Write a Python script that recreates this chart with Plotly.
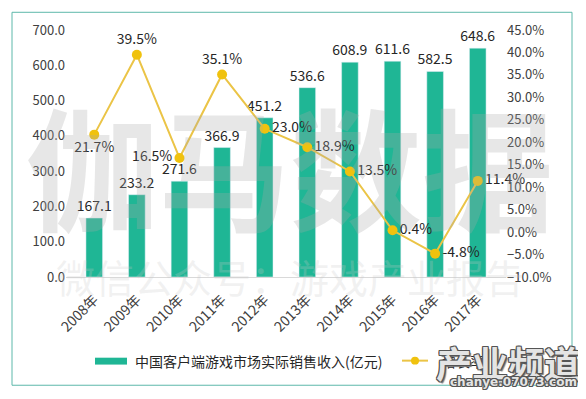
import plotly.graph_objects as go

years = ["2008年", "2009年", "2010年", "2011年", "2012年", "2013年", "2014年", "2015年", "2016年", "2017年"]
revenue = [167.1, 233.2, 271.6, 366.9, 451.2, 536.6, 608.9, 611.6, 582.5, 648.6]
growth = [21.7, 39.5, 16.5, 35.1, 23.0, 18.9, 13.5, 0.4, -4.8, 11.4]
growth_pos = ["bottom center", "top center", "middle left", "top center", "middle right",
              "middle right", "middle right", "middle right", "middle right", "middle right"]
bar_name = "中国客户端游戏市场实际销售收入(亿元)"
line_name = "增长率"

FONT = "Noto Sans CJK SC"
OFF = 8  # page body margin in the browser
W, H = 586 - OFF, 399 - OFF
L, R, T, B = 66 - OFF, 80, 26 - OFF, 122
PW, PH = W - L - R, H - T - B


def px(x):
    return (x - OFF - L) / PW


def py(y):
    return (H - B - (y - OFF)) / PH


BAR_C = "#1FB695"
LINE_C = "#EBC446"
MARK_C = "#F0C20E"

fig = go.Figure()
fig.add_trace(go.Bar(
    x=years, y=revenue, name=bar_name, marker_color=BAR_C,
    text=[f"{v:.1f}" for v in revenue], textposition="outside", constraintext="none",
    textfont=dict(size=14, color="#262626", family=FONT),
    cliponaxis=False, showlegend=False,
))
fig.add_trace(go.Scatter(
    x=years, y=growth, name=line_name, yaxis="y2", mode="lines+markers+text",
    line=dict(color=LINE_C, width=2), marker=dict(color=MARK_C, size=10),
    text=[f"{v:.1f}%" for v in growth], textposition=growth_pos,
    textfont=dict(size=14, color="#262626", family=FONT),
    cliponaxis=False, showlegend=False,
))

shapes = [
    dict(type="rect", xref="paper", yref="paper", x0=px(12), x1=px(572), y0=py(387), y1=py(8),
         line=dict(color="#5DB8AA", width=1), layer="below"),
    dict(type="rect", xref="paper", yref="paper", x0=px(95), x1=px(127), y0=py(366), y1=py(359),
         line=dict(width=0), fillcolor=BAR_C),
    dict(type="line", xref="paper", yref="paper", x0=px(402), x1=px(428), y0=py(362), y1=py(362),
         line=dict(color=LINE_C, width=2)),
    dict(type="circle", xref="paper", yref="paper", x0=px(411), x1=px(419), y0=py(366), y1=py(358),
         line=dict(width=0), fillcolor=MARK_C),
]


def ann(text, x, y, xanchor="center", **font):
    return dict(text=text, xref="paper", yref="paper", x=px(x), y=py(y), showarrow=False,
                xanchor=xanchor, yanchor="middle", font=font)


def outline(c, w=1):
    return ", ".join(f"{dx}px {dy}px 0 {c}" for dx in (-w, 0, w) for dy in (-w, 0, w) if dx or dy)


annotations = [
    ann("伽马数据", 290, 162, size=132, color="rgba(170,170,170,0.28)", family=FONT, weight="bold"),
    ann("微信公众号：游戏产业报告", 290, 276, size=39, color="rgba(200,200,200,0.25)", family=FONT),
    ann(bar_name, 133, 362, xanchor="left", size=14, color="#262626", family=FONT),
    ann(line_name, 440, 362, xanchor="left", size=14, color="#262626", family=FONT),
    ann("产业频道", 508, 363, size=36, color="#e4e4e4", family=FONT, weight="bold",
        shadow=outline("#555") + ", 2px 2px 1px #777"),
    ann("chanye.07073.com", 514, 384, size=12, color="#e4e4e4", family="DejaVu Sans", weight="bold",
        shadow=outline("#555")),
]

fig.update_layout(
    width=W, height=H,
    margin=dict(l=L, r=R, t=T, b=B),
    paper_bgcolor="white", plot_bgcolor="white",
    font=dict(family=FONT, color="#404040", size=13),
    bargap=0.61,
    showlegend=False,
    xaxis=dict(showline=True, linecolor="#D9D9D9", linewidth=1, tickangle=-45,
               tickfont=dict(size=14, color="#404040"), ticks="", showgrid=False,
               ticklabelstandoff=8),
    yaxis=dict(range=[0, 700], dtick=100, tickformat=".1f", showgrid=False, zeroline=False,
               tickfont=dict(size=13, color="#404040"), ticks=""),
    yaxis2=dict(range=[-10, 45], dtick=5, tickformat=".1f", ticksuffix="%", overlaying="y",
                side="right", showgrid=False, zeroline=False,
                tickfont=dict(size=13, color="#404040"), ticks=""),
    shapes=shapes,
    annotations=annotations,
)

fig.write_html("out.html")
